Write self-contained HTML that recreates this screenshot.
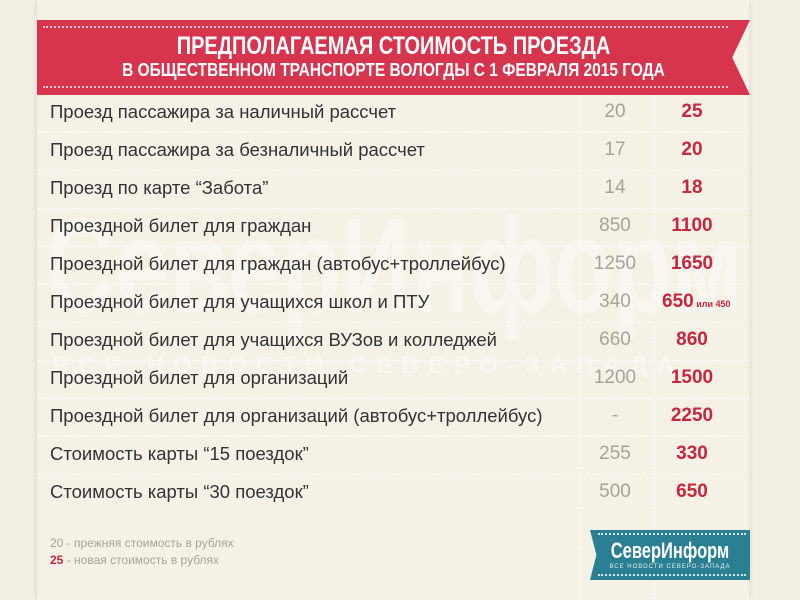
<!DOCTYPE html>
<html><head><meta charset="utf-8"><style>
body{margin:0;width:800px;height:600px;background:#f3efe4;font-family:"Liberation Sans Narrow","Liberation Sans",sans-serif;overflow:hidden;position:relative}
.panel{position:absolute;left:37px;top:0;width:712px;height:600px;background:#f5f1e7;box-shadow:0 0 6px rgba(0,0,0,.12)}
.banner{position:absolute;left:37px;top:20px;width:713px;height:75px;background:#d7344e;clip-path:polygon(0 0,100% 0,97.5% 50%,100% 100%,0 100%);box-shadow:0 3px 6px rgba(0,0,0,.2)}
.dots{position:absolute;left:6px;right:22px;height:0;border-top:2px dotted #f7c3cc}
.t1{position:absolute;left:0;width:713px;text-align:center;color:#fff;font-weight:bold}
.row{position:absolute;left:50px;font-size:18.5px;color:#333}
.old{position:absolute;width:74px;left:578px;text-align:center;font-size:19px;color:#a8a39a}
.new{position:absolute;width:80px;left:652px;text-align:center;font-size:19px;color:#c8263e;font-weight:bold}
.sep{position:absolute;left:37px;width:713px;border-top:1px dashed #fff}
.vl{position:absolute;top:95px;height:505px;border-left:1px dashed #fff}
.wm{position:absolute;left:45px;top:188px;font-size:135px;font-weight:bold;color:rgba(255,255,255,.35);transform:scaleX(.72);transform-origin:0 0;white-space:nowrap}
.wm2{position:absolute;left:52px;top:352px;font-size:24px;font-weight:bold;color:rgba(255,255,255,.35);letter-spacing:9.5px;white-space:nowrap}
</style></head><body>
<div class="panel"></div>
<div class="wm">СеверИнформ</div>
<div class="wm2">ВСЕ НОВОСТИ СЕВЕРО-ЗАПАДА</div>
<div class="vl" style="left:580px"></div><div class="vl" style="left:654px"></div>
<div class="banner">
<div class="dots" style="top:6px"></div><div class="dots" style="top:66px"></div>
<div class="t1" style="top:12px;font-size:25px;transform:scaleX(.8)">ПРЕДПОЛАГАЕМАЯ СТОИМОСТЬ ПРОЕЗДА</div>
<div class="t1" style="top:40px;font-size:18px;transform:scaleX(.86)">В ОБЩЕСТВЕННОМ ТРАНСПОРТЕ ВОЛОГДЫ С 1 ФЕВРАЛЯ 2015 ГОДА</div>
</div>
<div class="row" style="top:101px">Проезд пассажира за наличный рассчет</div><div class="old" style="top:101px">20</div><div class="new" style="top:101px">25</div>
<div class="sep" style="top:132px"></div>
<div class="row" style="top:139px">Проезд пассажира за безналичный рассчет</div><div class="old" style="top:139px">17</div><div class="new" style="top:139px">20</div>
<div class="sep" style="top:170px"></div>
<div class="row" style="top:177px">Проезд по карте “Забота”</div><div class="old" style="top:177px">14</div><div class="new" style="top:177px">18</div>
<div class="sep" style="top:208px"></div>
<div class="row" style="top:215px">Проездной билет для граждан</div><div class="old" style="top:215px">850</div><div class="new" style="top:215px">1100</div>
<div class="sep" style="top:246px"></div>
<div class="row" style="top:253px">Проездной билет для граждан (автобус+троллейбус)</div><div class="old" style="top:253px">1250</div><div class="new" style="top:253px">1650</div>
<div class="sep" style="top:284px"></div>
<div class="row" style="top:291px">Проездной билет для учащихся школ и ПТУ</div><div class="old" style="top:291px">340</div><div class="new" style="top:291px;left:662px;width:100px;text-align:left">650<span style="font-size:9px"> или 450</span></div>
<div class="sep" style="top:322px"></div>
<div class="row" style="top:329px">Проездной билет для учащихся ВУЗов и колледжей</div><div class="old" style="top:329px">660</div><div class="new" style="top:329px">860</div>
<div class="sep" style="top:360px"></div>
<div class="row" style="top:367px">Проездной билет для организаций</div><div class="old" style="top:367px">1200</div><div class="new" style="top:367px">1500</div>
<div class="sep" style="top:398px"></div>
<div class="row" style="top:405px">Проездной билет для организаций (автобус+троллейбус)</div><div class="old" style="top:405px">-</div><div class="new" style="top:405px">2250</div>
<div class="sep" style="top:436px"></div>
<div class="row" style="top:443px">Стоимость карты “15 поездок”</div><div class="old" style="top:443px">255</div><div class="new" style="top:443px">330</div>
<div class="sep" style="top:474px"></div>
<div class="row" style="top:481px">Стоимость карты “30 поездок”</div><div class="old" style="top:481px">500</div><div class="new" style="top:481px">650</div>
<div style="position:absolute;left:50px;top:536px;font-size:12px;color:#a8a39a">20 - прежняя стоимость в рублях</div>
<div style="position:absolute;left:50px;top:553px;font-size:12px;color:#a8a39a"><b style="color:#c8263e">25</b> - новая стоимость в рублях</div>
<div style="position:absolute;left:590px;top:530px;width:160px;height:50px;background:#2b7f93;clip-path:polygon(0 0,100% 0,100% 100%,0 100%,4% 50%)">
<div style="position:absolute;left:8px;right:4px;top:3px;border-top:2px dotted #cfe6ec"></div>
<div style="position:absolute;left:8px;right:4px;top:44px;border-top:2px dotted #cfe6ec"></div>
<div style="position:absolute;left:0;width:160px;top:9px;text-align:center;color:#fff;font-weight:bold;font-size:22px;line-height:24px;transform:scaleX(.75)">СеверИнформ</div>
<div style="position:absolute;left:0;width:160px;top:34px;text-align:center;color:#e6f2f5;font-size:6px;letter-spacing:1px">ВСЕ НОВОСТИ СЕВЕРО-ЗАПАДА</div>
</div>
</body></html>
